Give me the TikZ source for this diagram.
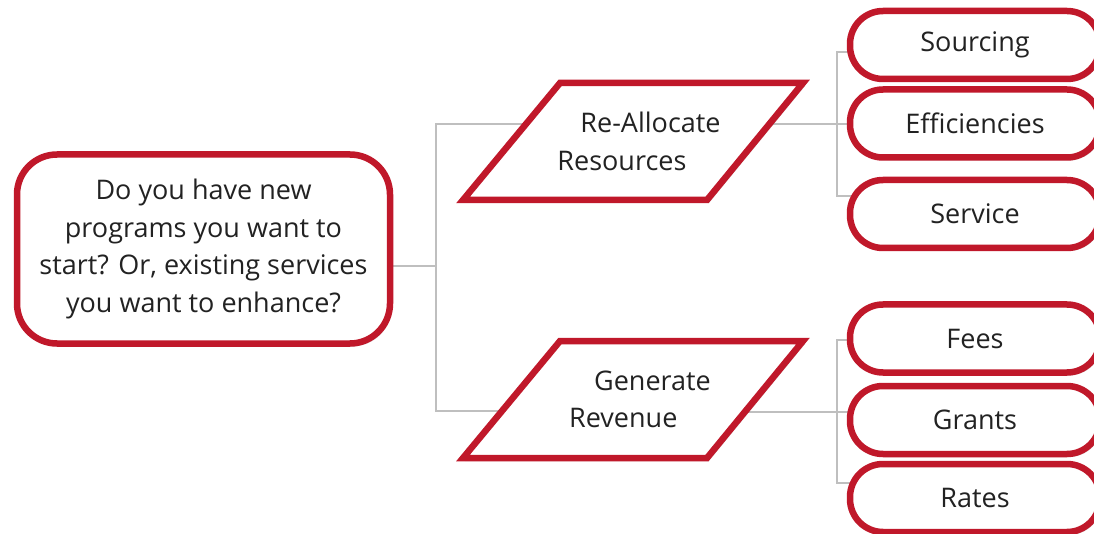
\documentclass[tikz,border=0pt]{standalone}
\usepackage{fontspec}
\setmainfont{Open Sans}
\usetikzlibrary{shadows,backgrounds,calc}
\definecolor{boxred}{HTML}{C0182A}
\definecolor{linegray}{HTML}{BFBFBF}
\definecolor{txt}{HTML}{222222}
\begin{document}
\begin{tikzpicture}[x=1pt,y=-1pt,
  every node/.style={text=txt},
  shad/.style={drop shadow={opacity=0.3,shadow xshift=2pt,shadow yshift=-3pt}},
  qbox/.style={draw=boxred,line width=6.5pt,fill=white,rounded corners=40pt,
    minimum width=373pt,minimum height=189pt,align=center,inner sep=0pt,shad,
    font=\fontsize{27}{37.5}\selectfont},
  parashape/.style={draw=boxred,line width=6.5pt,fill=white,line join=miter,shad},
  paratext/.style={align=left,inner sep=0pt,font=\fontsize{27}{37.5}\selectfont},
  rbox/.style={draw=boxred,line width=6.5pt,fill=white,rounded corners=33pt,
    minimum width=250pt,minimum height=68pt,inner sep=0pt,shad,
    font=\fontsize{27}{30}\selectfont},
  conn/.style={draw=linegray,line width=1.5pt}]
\useasboundingbox (0,0) rectangle (1094,534);

\node[qbox] (q) at (203.5,249) {Do you have new\\programs you want to\\start? Or, existing services\\you want to enhance?};

\coordinate (rac) at (633,141.5);
\coordinate (grc) at (633,399.5);
\draw[parashape] ($(rac)+(-73,-58.5)$) -- ($(rac)+(170,-58.5)$) -- ($(rac)+(74,58.5)$) -- ($(rac)+(-170,58.5)$) -- cycle;
\draw[parashape] ($(grc)+(-73,-58.5)$) -- ($(grc)+(170,-58.5)$) -- ($(grc)+(74,58.5)$) -- ($(grc)+(-170,58.5)$) -- cycle;
\node[paratext] (ra) at ($(rac)+(6,0)$) {\hspace*{23pt}Re-Allocate\\Resources};
\node[paratext] (gr) at ($(grc)+(7,0)$) {\hspace*{25pt}Generate\\Revenue};

\node[rbox] (s1) at (975,45) {Sourcing};
\node[rbox] (s2) at (975,123.5) {Efficiencies};
\node[rbox] (s3) at (975,214) {Service};
\node[rbox] (f1) at (975,338.5) {Fees};
\node[rbox] (f2) at (975,420) {Grants};
\node[rbox] (f3) at (975,498) {Rates};

\coordinate (qj) at (436,266);
\coordinate (ja) at (436,124);
\coordinate (jb) at (436,411);
\coordinate (ka) at (837,124);
\coordinate (kt) at (837,52);
\coordinate (kb) at (837,196);
\coordinate (ma) at (837,412);
\coordinate (mt) at (837,340);
\coordinate (mb) at (837,483);

\begin{pgfonlayer}{background}
\draw[conn] (q.center |- qj) -- (qj);
\draw[conn] (rac |- ja) -- (ja) -- (jb) -- (grc |- jb);
\draw[conn] (rac |- ka) -- (ka);
\draw[conn] (s1.center |- kt) -- (kt) -- (kb) -- (s3.center |- kb);
\draw[conn] (ka) -- (s2.center |- ka);
\draw[conn] (grc |- ma) -- (ma);
\draw[conn] (f1.center |- mt) -- (mt) -- (mb) -- (f3.center |- mb);
\draw[conn] (ma) -- (f2.center |- ma);
\end{pgfonlayer}
\end{tikzpicture}
\end{document}
